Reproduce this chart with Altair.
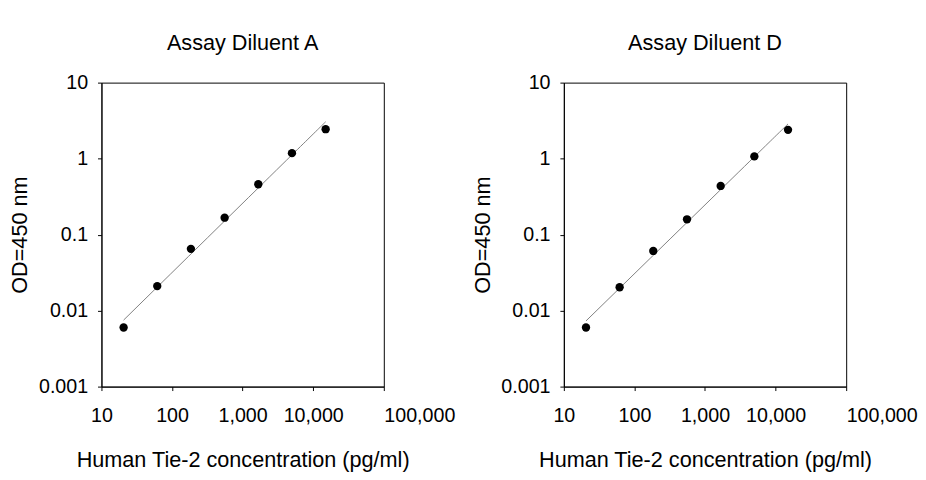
import altair as alt
import pandas as pd

# ---- data ----
conc = [20.6, 61.7, 185, 556, 1667, 5000, 15000]
od_a = [0.006, 0.021, 0.065, 0.167, 0.46, 1.18, 2.44]
od_d = [0.006, 0.0203, 0.061, 0.159, 0.437, 1.07, 2.39]
panel_titles = ["Assay Diluent A", "Assay Diluent D"]
x_ticks = [10, 100, 1000, 10000, 100000]
y_ticks = [0.001, 0.01, 0.1, 1, 10]
x_title = "Human Tie-2 concentration (pg/ml)"
y_title = "OD=450 nm"

FONT = "Liberation Sans"


def panel(od, title):
    df = pd.DataFrame({"conc": conc, "od": od})
    base = alt.Chart(df)
    x = alt.X(
        "conc:Q",
        scale=alt.Scale(type="log", domain=[10, 100000]),
        axis=alt.Axis(
            values=x_ticks,
            format=",d",
            title=x_title,
            labelFlush=False,
            labelAlign={"condition": {"test": "datum.value >= 100000", "value": "left"}, "value": "center"},
            tickSize=4,
            labelPadding=15,
            titlePadding=25,
        ),
    )
    y = alt.Y(
        "od:Q",
        scale=alt.Scale(type="log", domain=[0.001, 10]),
        axis=alt.Axis(
            values=y_ticks,
            format="~g",
            title=y_title,
            tickSize=4,
            labelPadding=10,
            titlePadding=7,
        ),
    )
    line = (
        base.transform_regression("conc", "od", method="pow")
        .mark_line(color="#7f7f7f", strokeWidth=1)
        .encode(x=x, y=y)
    )
    pts = base.mark_circle(size=72, color="black", opacity=1).encode(x=x, y=y)
    return alt.layer(line, pts).properties(
        width=287,
        height=309,
        title=alt.TitleParams(title, fontSize=22, fontWeight="normal", font=FONT,
                              color="black", offset=18, frame="group"),
    )


chart = (
    alt.hconcat(panel(od_a, panel_titles[0]), panel(od_d, panel_titles[1]), spacing=15)
    .properties(padding={"left": 0, "top": 20, "right": 0, "bottom": 0}, background="white")
    .configure_view(stroke="black", strokeWidth=1)
    .configure_axis(
        grid=False,
        domainColor="black",
        tickColor="black",
        labelColor="black",
        titleColor="black",
        labelFont=FONT,
        titleFont=FONT,
        labelFontSize=20,
        titleFontSize=22,
        titleFontWeight="normal",
    )
)

chart.save("out.html", embed_options={"renderer": "svg", "actions": False})
